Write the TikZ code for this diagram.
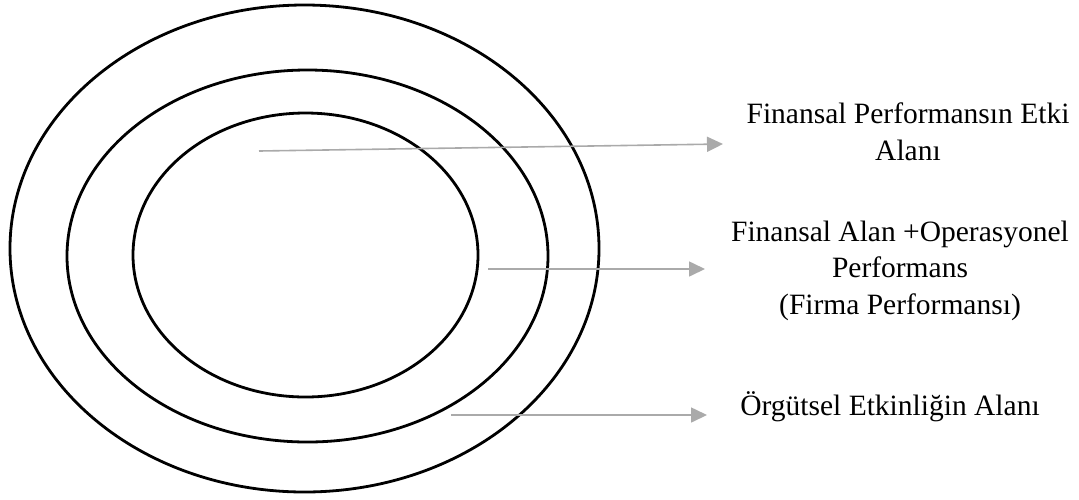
\documentclass[tikz,border=0pt]{standalone}
\usepackage{fontspec}
\setmainfont{Liberation Serif}
\usetikzlibrary{shapes.geometric,arrows.meta}
\begin{document}
\begin{tikzpicture}[x=0.5pt,y=-0.5pt,
  ring/.style={ellipse,draw=black,line width=1.4pt,inner sep=0pt},
  pointer/.style={draw={rgb,255:red,170;green,170;blue,170},line width=0.8pt,
    -{Triangle[length=8pt,width=7.5pt]}},
  label/.style={align=center,inner sep=0pt,anchor=base,
    font=\fontsize{14.75pt}{18.25pt}\selectfont}]
  \useasboundingbox (0,0) rectangle (1079,499);
  % three nested areas
  \node[ring,minimum width=294.5pt,minimum height=243.5pt] (outer) at (304.5,248.5) {};
  \node[ring,minimum width=240.5pt,minimum height=186pt] (middle) at (307.5,256) {};
  \node[ring,minimum width=172.5pt,minimum height=142pt] (inner) at (305.5,255) {};
  % labels (base anchor sits on the last line)
  \node[label] (fin) at (908,160) {Finansal Performansın Etki\\Alanı};
  \node[label] (firm) at (900,314) {Finansal Alan +Operasyonel\\Performans\\(Firma Performansı)};
  \node[label] (org) at (890,415) {Örgütsel Etkinliğin Alanı};
  % pointer ends
  \coordinate (s1) at (259,151);
  \coordinate (e1) at (723,144);
  \coordinate (s2) at (488,269);
  \coordinate (e2) at (705,269);
  \coordinate (s3) at (451,415);
  \coordinate (e3) at (707,415);
  \draw[pointer] (s1) -- (e1);
  \draw[pointer] (s2) -- (e2);
  \draw[pointer] (s3) -- (e3);
\end{tikzpicture}
\end{document}
